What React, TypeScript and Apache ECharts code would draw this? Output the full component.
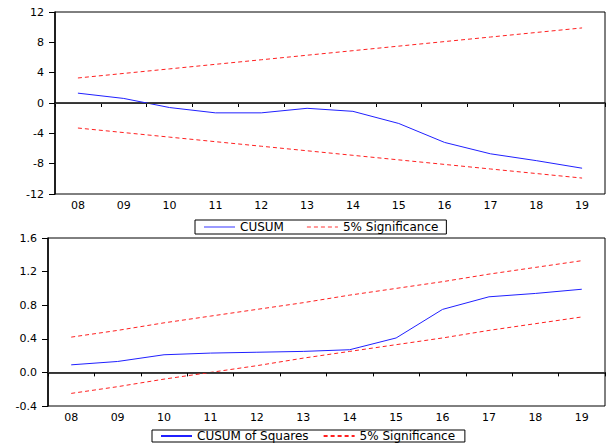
import React, { useEffect, useRef } from "react";
import * as echarts from "echarts";

const years = ["08", "09", "10", "11", "12", "13", "14", "15", "16", "17", "18", "19"];

const cusum = [1.3, 0.6, -0.6, -1.3, -1.3, -0.7, -1.1, -2.7, -5.2, -6.7, -7.6, -8.6];
const cusumUpper = [3.3, 3.9, 4.5, 5.1, 5.7, 6.3, 6.9, 7.5, 8.1, 8.7, 9.3, 9.9];
const cusumLower = [-3.3, -3.9, -4.5, -5.1, -5.7, -6.3, -6.9, -7.5, -8.1, -8.7, -9.3, -9.9];

const cusumSq = [0.09, 0.13, 0.21, 0.23, 0.24, 0.25, 0.27, 0.41, 0.75, 0.9, 0.94, 0.99];
const sqUpper = [0.42, 0.5, 0.59, 0.67, 0.75, 0.83, 0.92, 1.0, 1.08, 1.17, 1.25, 1.33];
const sqLower = [-0.25, -0.17, -0.08, 0.0, 0.08, 0.17, 0.25, 0.33, 0.41, 0.5, 0.58, 0.66];

const FONT = "DejaVu Sans";

export default function App() {
  const ref = useRef<HTMLDivElement>(null);

  useEffect(() => {
    if (!ref.current) return;
    const chart = echarts.init(ref.current, null, { renderer: "svg" });

    const xAxisBase = (gi: number) => ({
      type: "category",
      gridIndex: gi,
      data: years,
      boundaryGap: true,
      axisLine: { show: true, lineStyle: { color: "#000", width: 1.5 } },
      axisTick: { show: true, length: 4, interval: 0, lineStyle: { color: "#000" } },
      axisLabel: { color: "#000", fontSize: 11, fontFamily: FONT, margin: 6, interval: 0 },
      splitLine: { show: false },
    });

    const zeroLine = {
      silent: true,
      symbol: ["none", "none"],
      label: { show: false },
      lineStyle: { color: "#333", type: "solid", width: 1 },
      data: [{ yAxis: 0 }],
    };

    const red = "#ff2020";
    const blue = "#2020ff";

    const legendBase = {
      itemWidth: 31,
      itemHeight: 10,
      borderColor: "#000",
      borderWidth: 1,
      backgroundColor: "#fff",
      itemStyle: { opacity: 0, borderWidth: 0 },
      textStyle: { fontFamily: FONT, fontSize: 12, color: "#000" },
    };

    const option = {
      animation: false,
      backgroundColor: "#fff",
      textStyle: { fontFamily: FONT, color: "#000" },
      grid: [
        { left: 55, right: 6, top: 12, height: 182, show: true, borderColor: "#000", borderWidth: 1 },
        { left: 48, right: 6, top: 238, height: 168, show: true, borderColor: "#000", borderWidth: 1 },
      ],
      xAxis: [xAxisBase(0), xAxisBase(1)],
      yAxis: [
        {
          type: "value",
          gridIndex: 0,
          min: -12,
          max: 12,
          interval: 4,
          axisLine: { show: true, lineStyle: { color: "#000", width: 1.5 } },
          axisTick: { show: true, length: 6, lineStyle: { color: "#000" } },
          axisLabel: { color: "#000", fontSize: 11, fontFamily: FONT, margin: 11 },
          splitLine: { show: false },
        },
        {
          type: "value",
          gridIndex: 1,
          min: -0.4,
          max: 1.6,
          interval: 0.4,
          axisLine: { show: true, lineStyle: { color: "#000", width: 1.5 } },
          axisTick: { show: true, length: 6, lineStyle: { color: "#000" } },
          axisLabel: {
            color: "#000",
            fontSize: 11,
            fontFamily: FONT,
            margin: 11,
            formatter: (v: number) => v.toFixed(1),
          },
          splitLine: { show: false },
        },
      ],
      legend: [
        {
          ...legendBase,
          left: 195,
          top: 220,
          padding: [1, 8, 1, 8],
          itemGap: 22,
          data: [
            { name: "CUSUM", lineStyle: { color: "#9a9aff" } },
            { name: "5% Significance", lineStyle: { color: "#ff9a9a" } },
          ],
        },
        {
          ...legendBase,
          left: 152,
          top: 430,
          padding: [0, 6, 0, 8],
          itemGap: 14,
          data: ["CUSUM of Squares", "5% Significance "],
        },
      ],
      series: [
        {
          name: "CUSUM",
          type: "line",
          xAxisIndex: 0,
          yAxisIndex: 0,
          data: cusum,
          symbol: "none",
          lineStyle: { color: blue, width: 1 },
          itemStyle: { color: blue },
          markLine: zeroLine,
          z: 3,
        },
        {
          name: "5% Significance",
          type: "line",
          xAxisIndex: 0,
          yAxisIndex: 0,
          data: cusumUpper,
          symbol: "none",
          lineStyle: { color: red, width: 1, type: [4, 3] },
          itemStyle: { color: red },
        },
        {
          name: "5% Significance",
          type: "line",
          xAxisIndex: 0,
          yAxisIndex: 0,
          data: cusumLower,
          symbol: "none",
          lineStyle: { color: red, width: 1, type: [4, 3] },
          itemStyle: { color: red },
        },
        {
          name: "CUSUM of Squares",
          type: "line",
          xAxisIndex: 1,
          yAxisIndex: 1,
          data: cusumSq,
          symbol: "none",
          lineStyle: { color: blue, width: 1 },
          itemStyle: { color: blue },
          markLine: zeroLine,
          z: 3,
        },
        {
          name: "5% Significance ",
          type: "line",
          xAxisIndex: 1,
          yAxisIndex: 1,
          data: sqUpper,
          symbol: "none",
          lineStyle: { color: red, width: 1, type: [4, 3] },
          itemStyle: { color: red },
        },
        {
          name: "5% Significance ",
          type: "line",
          xAxisIndex: 1,
          yAxisIndex: 1,
          data: sqLower,
          symbol: "none",
          lineStyle: { color: red, width: 1, type: [4, 3] },
          itemStyle: { color: red },
        },
      ],
    };

    chart.setOption(option as any);
    return () => chart.dispose();
  }, []);

  return (
    <div
      ref={ref}
      style={{ position: "fixed", left: 0, top: 0, width: 611, height: 444, background: "#fff" }}
    />
  );
}
